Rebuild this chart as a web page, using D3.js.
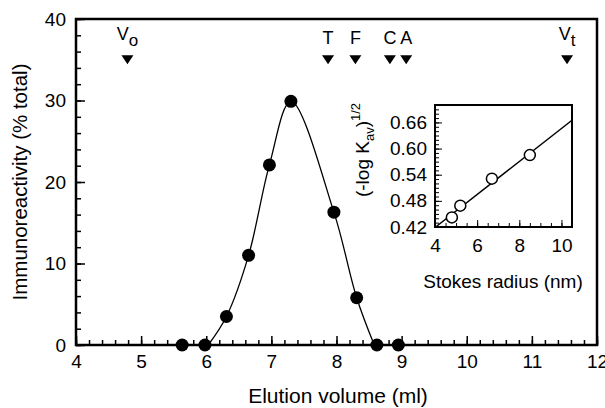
<!DOCTYPE html>
<html>
<head>
<meta charset="utf-8">
<script src="https://cdn.jsdelivr.net/npm/d3@7"></script>
<style>
  body { margin: 0; background: #fff; }
  svg { display: block; font-family: "Liberation Sans", Arial, sans-serif; }
</style>
</head>
<body>
<svg id="chart" width="605" height="408"></svg>
<script>
// ---- Data ----
const elutionVolume = [5.63, 5.98, 6.31, 6.65, 6.97, 7.30, 7.96, 8.31, 8.62, 8.95];
const immunoreactivity = [0, 0, 3.5, 11.0, 22.1, 29.9, 16.3, 5.8, 0, 0];
const curveX = [6.03, 6.31, 6.65, 6.97, 7.30, 7.96, 8.31, 8.58];
const curveY = [0, 3.5, 11.0, 22.1, 29.9, 16.3, 5.8, 0];
const markerNames = ["V", "T", "F", "C", "A", "V"];
const markerSubs = ["o", "", "", "", "", "t"];
const markerX = [4.79, 7.87, 8.29, 8.82, 9.07, 11.54];
const markerLevel = 35;
const xTicks = [4, 5, 6, 7, 8, 9, 10, 11, 12];
const yTicks = [0, 10, 20, 30, 40];
const stokesRadius = [4.8, 5.2, 6.7, 8.5];
const kav = [0.442, 0.469, 0.531, 0.585];
const fitX = [4.03, 10.5];
const fitY = [0.42, 0.665];
const insetXTicks = [4, 6, 8, 10];
const insetYTicks = [0.42, 0.48, 0.54, 0.60, 0.66];

const svg = d3.select("#chart");
const FONT = "Liberation Sans, Arial, sans-serif";

// ---- Main plot ----
const x = d3.scaleLinear().domain([4, 12]).range([76, 597]);
const y = d3.scaleLinear().domain([0, 40]).range([345, 19]);

svg.append("rect").attr("x", x(4)).attr("y", y(40))
  .attr("width", x(12) - x(4)).attr("height", y(0) - y(40))
  .attr("fill", "none").attr("stroke", "#000").attr("stroke-width", 2.5);

svg.append("g").attr("transform", `translate(0,${y(0)})`)
  .call(d3.axisBottom(x).tickValues(d3.range(4, 12.01, 0.2)).tickSize(-5).tickFormat(""))
  .call(g => g.select(".domain").remove())
  .selectAll("line").attr("stroke-width", 1.5);
svg.append("g").attr("transform", `translate(${x(4)},0)`)
  .call(d3.axisLeft(y).tickValues(d3.range(0, 40.01, 2)).tickSize(-5).tickFormat(""))
  .call(g => g.select(".domain").remove())
  .selectAll("line").attr("stroke-width", 1.5);

const gx = svg.append("g").attr("transform", `translate(0,${y(0)})`)
  .call(d3.axisBottom(x).tickValues(xTicks).tickSize(-9).tickPadding(10).tickFormat(d3.format("d")));
gx.select(".domain").remove();
gx.selectAll("line").attr("stroke-width", 1.5);
gx.selectAll("text").attr("font-size", 19).attr("font-family", FONT).attr("fill", "#000");

const gy = svg.append("g").attr("transform", `translate(${x(4)},0)`)
  .call(d3.axisLeft(y).tickValues(yTicks).tickSize(-9).tickPadding(10).tickFormat(d3.format("d")));
gy.select(".domain").remove();
gy.selectAll("line").attr("stroke-width", 1.5);
gy.selectAll("text").attr("font-size", 19).attr("font-family", FONT).attr("fill", "#000");

svg.append("text").attr("x", 338).attr("y", 403)
  .attr("text-anchor", "middle").attr("font-size", 21).text("Elution volume (ml)");
svg.append("text").attr("transform", `translate(27,${(y(0) + y(40)) / 2}) rotate(-90)`)
  .attr("text-anchor", "middle").attr("font-size", 20.5).text("Immunoreactivity (% total)");

const curvePts = curveX.map((v, i) => [x(v), y(curveY[i])]);
svg.append("path").attr("d", d3.line().curve(d3.curveCatmullRom.alpha(0.5))(curvePts))
  .attr("fill", "none").attr("stroke", "#000").attr("stroke-width", 1.3);

svg.append("g").selectAll("circle").data(elutionVolume).join("circle")
  .attr("cx", d => x(d)).attr("cy", (d, i) => y(immunoreactivity[i]))
  .attr("r", 6.5).attr("fill", "#000");

const mk = svg.append("g");
markerX.forEach((mx, i) => {
  const cx = x(mx), cy = y(markerLevel);
  mk.append("path").attr("d", `M${cx - 6},${cy - 4.5}L${cx + 6},${cy - 4.5}L${cx},${cy + 4.5}Z`).attr("fill", "#000");
  const t = mk.append("text").attr("x", cx).attr("y", markerSubs[i] ? 40 : 44)
    .attr("text-anchor", "middle").attr("font-size", 18);
  t.append("tspan").text(markerNames[i]);
  if (markerSubs[i]) {
    t.append("tspan").attr("dy", 6).attr("font-size", 17).text(markerSubs[i]);
  }
});

// ---- Inset ----
const ix = d3.scaleLinear().domain([4, 10.5]).range([435, 572]);
const iy = d3.scaleLinear().domain([0.42, 0.70]).range([227, 105]);

svg.append("rect").attr("x", ix(4)).attr("y", iy(0.70))
  .attr("width", ix(10.5) - ix(4)).attr("height", iy(0.42) - iy(0.70))
  .attr("fill", "#fff").attr("stroke", "#000").attr("stroke-width", 2);

const ixm = svg.append("g").attr("transform", `translate(0,${iy(0.42)})`)
  .call(d3.axisBottom(ix).tickValues(d3.range(4, 10.51, 0.5)).tickSize(-4).tickFormat(""));
ixm.select(".domain").remove();
const iym = svg.append("g").attr("transform", `translate(${ix(4)},0)`)
  .call(d3.axisLeft(iy).tickValues(d3.range(0, 28.01, 1).map(k => 0.42 + k * 0.01)).tickSize(-4).tickFormat(""));
iym.select(".domain").remove();

const igx = svg.append("g").attr("transform", `translate(0,${iy(0.42)})`)
  .call(d3.axisBottom(ix).tickValues(insetXTicks).tickSize(-7).tickPadding(12).tickFormat(d3.format("d")));
igx.select(".domain").remove();
igx.selectAll("text").attr("font-size", 19).attr("font-family", FONT).attr("fill", "#000");
const igy = svg.append("g").attr("transform", `translate(${ix(4)},0)`)
  .call(d3.axisLeft(iy).tickValues(insetYTicks).tickSize(-7).tickPadding(8).tickFormat(d3.format(".2f")));
igy.select(".domain").remove();
igy.selectAll("text").attr("font-size", 19).attr("font-family", FONT).attr("fill", "#000");

svg.append("path").attr("d", d3.line()(fitX.map((v, i) => [ix(v), iy(fitY[i])])))
  .attr("fill", "none").attr("stroke", "#000").attr("stroke-width", 1.5);

svg.append("g").selectAll("circle").data(stokesRadius).join("circle")
  .attr("cx", d => ix(d)).attr("cy", (d, i) => iy(kav[i]))
  .attr("r", 5.5).attr("fill", "#fff").attr("stroke", "#000").attr("stroke-width", 1.5);

svg.append("text").attr("x", 503).attr("y", 288)
  .attr("text-anchor", "middle").attr("font-size", 19).text("Stokes radius (nm)");

const yl = svg.append("text").attr("transform", `translate(369,150) rotate(-90)`)
  .attr("text-anchor", "middle").attr("font-size", 19);
yl.append("tspan").text("(-log K");
yl.append("tspan").attr("dy", 5).attr("font-size", 13).text("av");
yl.append("tspan").attr("dy", -5).text(")");
yl.append("tspan").attr("dy", -9).attr("font-size", 13).text("1/2");
</script>
</body>
</html>
